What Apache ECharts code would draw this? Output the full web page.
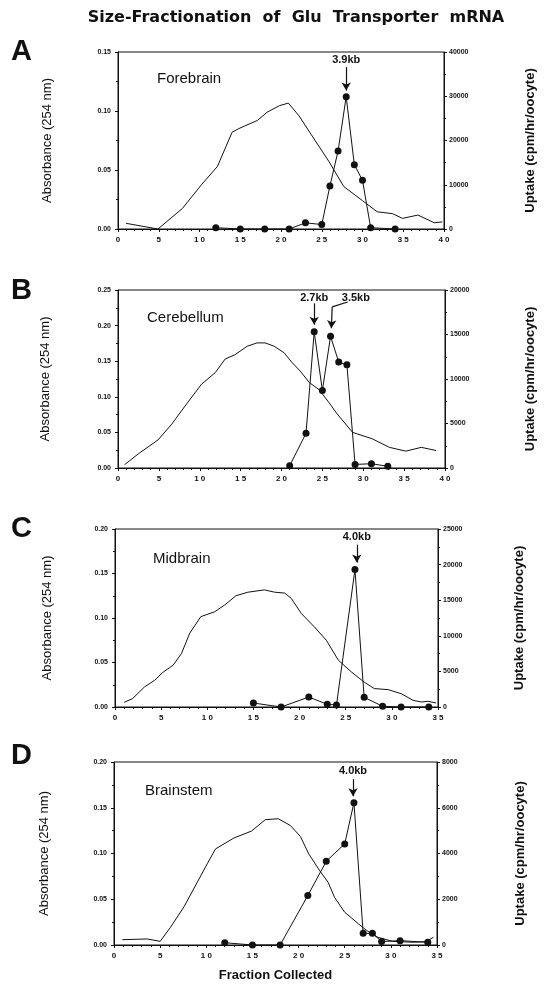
<!DOCTYPE html>
<html><head><meta charset="utf-8">
<script src="https://cdn.jsdelivr.net/npm/echarts@6/dist/echarts.min.js"></script>
<style>html,body{margin:0;padding:0;background:#fff}#c{width:545px;height:987px}</style>
</head><body><div id="c"></div>
<script>
// ---------- DATA ----------
const panelNames = ['Forebrain', 'Cerebellum', 'Midbrain', 'Brainstem'];
const panelLetters = ['A', 'B', 'C', 'D'];

// Absorbance (254 nm) traces
const absA_x = [1.0, 4.9, 7.9, 10.3, 12.2, 14.0, 14.8, 17.1, 18.3, 19.8, 20.9, 22.2, 23.9, 25.9, 27.7, 30.0, 31.8, 33.7, 34.9, 36.8, 38.8, 39.8];
const absA_y = [0.0048, 0.0, 0.0174, 0.038, 0.053, 0.082, 0.085, 0.092, 0.099, 0.1045, 0.1067, 0.096, 0.078, 0.057, 0.036, 0.024, 0.0146, 0.013, 0.009, 0.0118, 0.0053, 0.006];
const absB_x = [0.8, 2.5, 4.9, 6.6, 8.2, 10.2, 11.9, 13.1, 14.3, 15.8, 17.0, 18.0, 19.1, 20.3, 21.3, 22.3, 23.4, 24.6, 25.8, 26.8, 28.7, 31.1, 33.2, 35.2, 37.1, 38.9];
const absB_y = [0.0046, 0.020, 0.0395, 0.062, 0.087, 0.1175, 0.134, 0.153, 0.159, 0.171, 0.1757, 0.1757, 0.171, 0.162, 0.148, 0.136, 0.120, 0.110, 0.092, 0.076, 0.050, 0.041, 0.029, 0.0237, 0.029, 0.0246];
const absC_x = [1.0, 1.9, 3.2, 4.3, 5.2, 6.3, 7.2, 8.1, 9.3, 10.8, 11.9, 13.1, 14.4, 16.2, 17.3, 18.4, 19.1, 20.2, 21.6, 22.9, 24.2, 25.6, 27.0, 28.1, 29.6, 31.0, 32.3, 33.2, 33.9, 34.8];
const absC_y = [0.0053, 0.0094, 0.0226, 0.030, 0.039, 0.047, 0.060, 0.083, 0.1015, 0.107, 0.1147, 0.125, 0.129, 0.1316, 0.129, 0.128, 0.122, 0.105, 0.090, 0.075, 0.0526, 0.0395, 0.028, 0.0207, 0.0195, 0.015, 0.0075, 0.0056, 0.0064, 0.0045];
const absD_x = [0.9, 3.6, 5.0, 6.1, 7.6, 10.1, 11.0, 13.0, 14.9, 16.4, 17.8, 19.1, 20.2, 21.1, 22.3, 23.2, 23.9, 25.0, 26.5, 27.4, 28.6, 30.2, 32.4, 33.8, 34.6];
const absD_y = [0.0058, 0.0066, 0.004, 0.019, 0.042, 0.0887, 0.105, 0.117, 0.1245, 0.137, 0.138, 0.1307, 0.1186, 0.0996, 0.081, 0.0686, 0.052, 0.0358, 0.023, 0.0157, 0.0084, 0.004, 0.003, 0.0036, 0.0084];

// Uptake (cpm/hr/oocyte) points
const upA_x = [12, 15, 18, 21, 23, 25, 26, 27, 28, 29, 30, 31, 34];
const upA_y = [300, 0, 0, 0, 1400, 1000, 9700, 17600, 29900, 14500, 11000, 300, 0];
const upB_x = [21, 23, 24, 25, 26, 27, 28, 29, 31, 33];
const upB_y = [260, 3900, 15300, 8700, 14800, 11900, 11600, 400, 480, 190];
const upC_x = [15, 18, 21, 23, 24, 26, 27, 29, 31, 34];
const upC_y = [560, 0, 1400, 380, 280, 19300, 1360, 100, 0, 0];
const upD_x = [12, 15, 18, 21, 23, 25, 26, 27, 28, 29, 31, 34];
const upD_y = [100, 0, 0, 2160, 3660, 4420, 6220, 510, 510, 150, 190, 120];

// Axis scales
const xMax = [40, 40, 35, 35];
const absMax = [0.15, 0.25, 0.20, 0.20];
const upMax = [40000, 20000, 25000, 8000];
const upInterval = [10000, 5000, 5000, 2000];

// Size markers: [label, fraction, labelValue]
const kbLabels = [
  [['3.9kb', 28, 38300]],
  [['2.7kb', 24, 19100], ['3.5kb', 29.1, 19100]],
  [['4.0kb', 26.2, 23900]],
  [['4.0kb', 25.9, 7600]]
];
// Arrows: polyline pieces [[x1,y1],[x2,y2], arrowHead]
const kbArrows = [
  [[[28, 36600], [28, 31300], true]],
  [[[24, 18500], [24, 16100], true], [[28.1, 18650], [26.2, 18100], false], [[26.2, 18100], [26.1, 15700], true]],
  [[[26.2, 22800], [26.2, 20300], true]],
  [[[25.9, 7250], [25.9, 6500], true]]
];

const absX = [absA_x, absB_x, absC_x, absD_x];
const absY = [absA_y, absB_y, absC_y, absD_y];
const upX = [upA_x, upB_x, upC_x, upD_x];
const upY = [upA_y, upB_y, upC_y, upD_y];

// ---------- LAYOUT ----------
const grids = [
  {left: 118, top: 52, width: 327, height: 177},
  {left: 118, top: 290, width: 327, height: 178},
  {left: 115, top: 529, width: 323, height: 178},
  {left: 114, top: 762, width: 323, height: 183}
];
const leftNameGap = [64, 66, 61, 63];
const rightNameGap = [80, 79, 75, 77];
const FONT = 'Liberation Sans';
const spaced = v => String(v).split('').join(' ');

const chart = echarts.init(document.getElementById('c'), null, {renderer: 'canvas'});
const option = {
  backgroundColor: '#fff',
  animation: false,
  title: {
    text: 'Size-Fractionation  of  Glu  Transporter  mRNA',
    left: 291, top: 5, textAlign: 'center',
    textStyle: {fontFamily: 'DejaVu Sans', fontSize: 16, fontWeight: 'bold', color: '#111'}
  },
  grid: [], xAxis: [], yAxis: [], series: [], graphic: []
};

const zip = (xs, ys) => xs.map((x, i) => [x, ys[i]]);

for (let p = 0; p < 4; p++) {
  const g = grids[p];
  option.grid.push(Object.assign({show: true, borderColor: '#111', borderWidth: 1, containLabel: false}, g));
  option.xAxis.push({
    type: 'value', gridIndex: p, min: 0, max: xMax[p], interval: 5,
    axisLine: {lineStyle: {color: '#111', width: 1}},
    axisTick: {inside: false, length: 3, lineStyle: {color: '#111'}},
    minorTick: {show: true, splitNumber: 5, length: 2, lineStyle: {color: '#111'}},
    splitLine: {show: false},
    axisLabel: {fontFamily: FONT, fontSize: 8, fontWeight: 'bold', color: '#111', margin: 7, formatter: spaced},
    name: p === 3 ? 'Fraction Collected' : '',
    nameLocation: 'middle', nameGap: 24,
    nameTextStyle: {fontFamily: FONT, fontSize: 13, fontWeight: 'bold', color: '#111'}
  });
  option.yAxis.push({
    type: 'value', gridIndex: p, min: 0, max: absMax[p], interval: 0.05, position: 'left',
    axisLine: {show: true, lineStyle: {color: '#111', width: 1}},
    axisTick: {show: true, length: 3, lineStyle: {color: '#111'}},
    minorTick: {show: true, splitNumber: 2, length: 2, lineStyle: {color: '#111'}},
    splitLine: {show: false},
    axisLabel: {fontFamily: FONT, fontSize: 7, fontWeight: 'bold', color: '#111', margin: 7, formatter: v => v.toFixed(2)},
    name: 'Absorbance (254 nm)', nameLocation: 'middle', nameRotate: 90, nameGap: leftNameGap[p],
    nameTextStyle: {fontFamily: FONT, fontSize: 13, color: '#111'}
  });
  option.yAxis.push({
    type: 'value', gridIndex: p, min: 0, max: upMax[p], interval: upInterval[p], position: 'right',
    axisLine: {show: true, lineStyle: {color: '#111', width: 1}},
    axisTick: {show: true, length: 3, lineStyle: {color: '#111'}},
    minorTick: {show: true, splitNumber: 2, length: 2, lineStyle: {color: '#111'}},
    splitLine: {show: false},
    axisLabel: {fontFamily: FONT, fontSize: 7, fontWeight: 'bold', color: '#111', margin: 5, formatter: v => String(v)},
    name: 'Uptake (cpm/hr/oocyte)', nameLocation: 'middle', nameRotate: 90, nameGap: rightNameGap[p],
    nameTextStyle: {fontFamily: FONT, fontSize: 13, fontWeight: 'bold', color: '#111'}
  });

  option.series.push({
    type: 'line', xAxisIndex: p, yAxisIndex: 2 * p, data: zip(absX[p], absY[p]),
    showSymbol: false, symbol: 'none', smooth: false,
    lineStyle: {color: '#111', width: 1}, z: 2
  });

  const mlData = kbArrows[p].map(a => [
    {coord: a[0], symbol: 'none'},
    {coord: a[1], symbol: a[2] ? 'arrow' : 'none', symbolSize: a[2] ? [7, 8] : 0}
  ]);
  option.series.push({
    type: 'line', xAxisIndex: p, yAxisIndex: 2 * p + 1, data: zip(upX[p], upY[p]),
    symbol: 'circle', symbolSize: 7, showAllSymbol: true,
    itemStyle: {color: '#111'}, lineStyle: {color: '#111', width: 1}, z: 3,
    markLine: {
      silent: true, animation: false,
      lineStyle: {color: '#111', width: 1.2, type: 'solid'},
      label: {show: false},
      data: mlData
    },
    markPoint: {
      silent: true, symbol: 'circle', symbolSize: 0,
      label: {show: true, position: 'inside', fontFamily: FONT, fontSize: 11, fontWeight: 'bold', color: '#111',
              formatter: pr => pr.name},
      data: kbLabels[p].map(l => ({name: l[0], coord: [l[1], l[2]]}))
    }
  });

  option.graphic.push({
    type: 'text', left: 11, top: [37, 276, 514, 741][p],
    style: {text: panelLetters[p], font: 'bold 29px "Liberation Sans"', fill: '#111'}
  });
  option.graphic.push({
    type: 'text', left: [157, 147, 153, 145][p], top: [71, 310, 551, 783][p],
    style: {text: panelNames[p], font: '15px "Liberation Sans"', fill: '#111'}
  });
}
chart.setOption(option);
</script></body></html>
